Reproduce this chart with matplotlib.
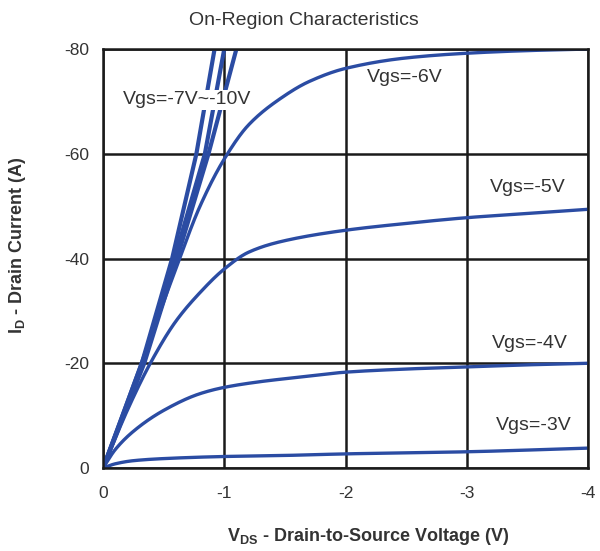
import matplotlib
matplotlib.use("Agg")
import matplotlib.pyplot as plt
import numpy as np

plt.rcParams['font.family'] = ['Liberation Sans', 'DejaVu Sans']

# V_DS (V) and I_D (A), as positive magnitudes
v_10 = [0, 0.32, 0.57, 0.77, 0.92, 0.95]
i_10 = [0, 20, 40, 60, 80, 83]
v_8 = [0, 0.33, 0.59, 0.84, 1.0, 1.04]
i_8 = [0, 20, 40, 60, 80, 83]
v_7 = [0, 0.34, 0.61, 0.87, 1.1, 1.14]
i_7 = [0, 20, 40, 60, 80, 83]

v_6 = [0, 0.3, 0.6, 0.8, 1.0, 1.2, 1.46, 1.7, 2.0, 2.5, 3.0, 3.5, 4.0]
i_6 = [0, 19, 38, 50, 59.0, 65.5, 70.5, 73.8, 76.3, 78.3, 79.2, 79.7, 80.0]

v_5 = [0, 0.2, 0.39, 0.6, 0.8, 1.0, 1.2, 1.46, 2.0, 2.5, 3.0, 3.5, 4.0]
i_5 = [0, 11, 20, 28, 33.5, 38, 41.2, 43.2, 45.4, 46.7, 47.8, 48.6, 49.4]

v_4 = [0, 0.1, 0.25, 0.5, 0.8, 1.0, 1.3, 1.6, 2.0, 2.5, 3.0, 3.5, 4.0]
i_4 = [0, 3.5, 7.0, 11.0, 14.2, 15.4, 16.5, 17.3, 18.3, 18.9, 19.3, 19.7, 20.0]

v_3 = [0, 0.1, 0.25, 0.5, 1.0, 1.5, 2.0, 3.0, 4.0]
i_3 = [0, 0.8, 1.4, 1.8, 2.2, 2.4, 2.7, 3.1, 3.8]

x_ticks = [0, -1, -2, -3, -4]
y_ticks = [0, -20, -40, -60, -80]

labels = ["Vgs=-7V~-10V", "Vgs=-6V", "Vgs=-5V", "Vgs=-4V", "Vgs=-3V"]
label_v = [0.69, 2.49, 3.5, 3.52, 3.55]
label_i = [70.3, 74.5, 53.5, 23.7, 8.2]

blue = '#2b4ca3'

def smooth(v, i, n=40):
    # monotone cubic (Fritsch-Carlson) through the read points
    x = np.asarray(v, float)
    y = np.asarray(i, float)
    h = np.diff(x)
    d = np.diff(y) / h
    m = np.zeros_like(y)
    m[0], m[-1] = d[0], d[-1]
    for k in range(1, len(x) - 1):
        if d[k - 1] * d[k] <= 0:
            m[k] = 0
        else:
            w1 = 2 * h[k] + h[k - 1]
            w2 = h[k] + 2 * h[k - 1]
            m[k] = (w1 + w2) / (w1 / d[k - 1] + w2 / d[k])
    xs, ys = [], []
    for k in range(len(x) - 1):
        t = np.linspace(0, 1, n, endpoint=False)
        h00 = 2 * t**3 - 3 * t**2 + 1
        h10 = t**3 - 2 * t**2 + t
        h01 = -2 * t**3 + 3 * t**2
        h11 = t**3 - t**2
        xs.extend(x[k] + t * h[k])
        ys.extend(h00 * y[k] + h10 * h[k] * m[k] + h01 * y[k + 1] + h11 * h[k] * m[k + 1])
    xs.append(x[-1])
    ys.append(y[-1])
    return -np.array(xs), -np.array(ys)

fig = plt.figure(figsize=(6.0, 5.51), dpi=100)
ax = fig.add_axes([0.1717, 0.1506, 0.8083, 0.7604])

for v, i in [(v_10, i_10), (v_8, i_8), (v_7, i_7)]:
    ax.plot(-np.array(v), -np.array(i), color=blue, lw=3.0, solid_capstyle='butt')
for v, i in [(v_6, i_6), (v_5, i_5), (v_4, i_4), (v_3, i_3)]:
    xs, ys = smooth(v, i)
    ax.plot(xs, ys, color=blue, lw=2.4)

for k, (txt, v, i) in enumerate(zip(labels, label_v, label_i)):
    bb = dict(facecolor='white', edgecolor='none', pad=1.0) if k == 0 else None
    ax.text(-v, -i, txt, ha='center', va='center', fontsize=14, color='#333333', bbox=bb)

ax.set_xlim(0, -4)
ax.set_ylim(0, -80)
ax.set_xticks(x_ticks)
ax.set_yticks(y_ticks)
ax.set_xticklabels([str(x) for x in x_ticks])
ax.set_yticklabels([str(y) for y in y_ticks])
ax.tick_params(length=0, labelsize=12.5, colors='#333333')
ax.tick_params(axis='x', pad=13)
ax.tick_params(axis='y', pad=10)
ax.grid(True, color='#1a1a1a', lw=1.8)
ax.set_axisbelow(True)
for sp in ax.spines.values():
    sp.set_color('#1a1a1a')
    sp.set_linewidth(1.8)

fig.text(0.507, 0.962, "On-Region Characteristics", ha='center', va='center',
         fontsize=14, color='#333333')
fig.text(0.613, 0.008, r"V$_{\mathregular{DS}}$ - Drain-to-Source Voltage (V)", ha='center',
         va='bottom', fontsize=13, fontweight='bold', color='#333333')
fig.text(0.03, 0.555, r"I$_{\mathregular{D}}$ - Drain Current (A)", ha='center', va='center',
         rotation=90, fontsize=13, fontweight='bold', color='#333333')

fig.savefig("out.png", dpi=100)
